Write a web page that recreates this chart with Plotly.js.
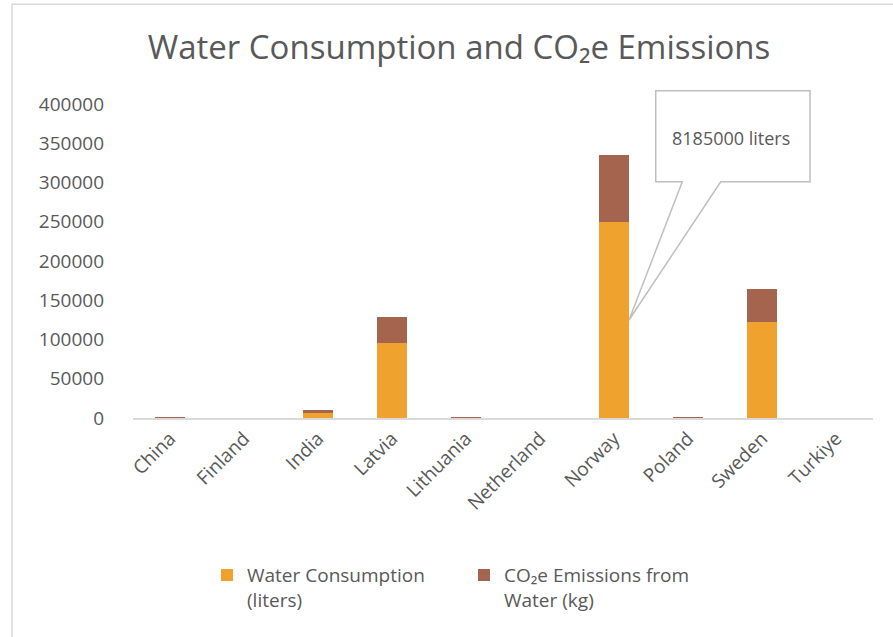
<!DOCTYPE html>
<html>
<head>
<meta charset="utf-8">
<script src="https://cdn.plot.ly/plotly-3.0.1.min.js"></script>
<style>html,body{margin:0;padding:0;background:#fff;}#chart{width:893px;height:637px;}</style>
</head>
<body>
<div id="chart"></div>
<script>
const countries = ["China", "Finland", "India", "Latvia", "Lithuania", "Netherland", "Norway", "Poland", "Sweden", "Turkiye"];
const waterLiters = [300, 0, 7000, 95500, 300, 0, 250000, 300, 122700, 0];
const co2Kg = [1200, 0, 3000, 33500, 1200, 0, 85400, 900, 41600, 0];
const yTicks = [0, 50000, 100000, 150000, 200000, 250000, 300000, 350000, 400000];
const calloutText = "8185000 liters";

const font = "Open Sans, sans-serif";
const txt = "#595959";

const traces = [
  {type: "bar", name: "Water Consumption<br>(liters)", x: countries, y: waterLiters,
   marker: {color: "#EFA22E"}},
  {type: "bar", name: "CO₂e Emissions from<br>Water (kg)", x: countries, y: co2Kg,
   marker: {color: "#A5644E"}}
];

const layout = {
  width: 893, height: 637,
  margin: {l: 133, r: 20, t: 104, b: 219},
  paper_bgcolor: "#fff", plot_bgcolor: "#fff",
  barmode: "stack", bargap: 0.6,
  title: {text: "Water Consumption and CO₂e Emissions", x: 0.514, xanchor: "center", y: 0.925, yanchor: "middle",
          font: {family: font, size: 33, color: txt}},
  font: {family: font, color: txt},
  xaxis: {type: "category", tickangle: -45, tickfont: {size: 19, color: txt}, showgrid: false,
          showline: true, linecolor: "#d9d9d9", linewidth: 2, ticks: "", zeroline: false},
  yaxis: {range: [0, 400000], tickvals: yTicks, ticktext: yTicks.map(String), showgrid: false,
          zeroline: false, showline: false, tickfont: {size: 19, color: txt}, ticks: "", ticklabelstandoff: 28},
  showlegend: true,
  legend: {orientation: "h", x: 0.1, xanchor: "left", y: -0.44, yanchor: "top", valign: "top",
           font: {size: 19, color: txt}, traceorder: "normal", itemwidth: 30, entrywidth: 212},
  shapes: [
    {type: "rect", xref: "paper", yref: "paper", x0: -0.1635, x1: 1.1, y0: -0.8, y1: 1.318,
     line: {color: "#d9d9d9", width: 1.5}, fillcolor: "rgba(0,0,0,0)", layer: "below"},
    {type: "path", xref: "paper", yref: "paper",
     path: "M 0.7064 1.0424 L 0.9149 1.0424 L 0.9149 0.7525 L 0.7942 0.7525 L 0.6703 0.3121 L 0.7423 0.7525 L 0.7064 0.7525 Z",
     line: {color: "#bfbfbf", width: 1.5}, fillcolor: "#ffffff", layer: "above"}
  ],
  annotations: [
    {xref: "paper", yref: "paper", x: 0.808, y: 0.8917, xanchor: "center", yanchor: "middle",
     text: calloutText, showarrow: false, font: {family: font, size: 18, color: txt}}
  ]
};

Plotly.newPlot("chart", traces, layout, {displayModeBar: false, staticPlot: true});
</script>
</body>
</html>
